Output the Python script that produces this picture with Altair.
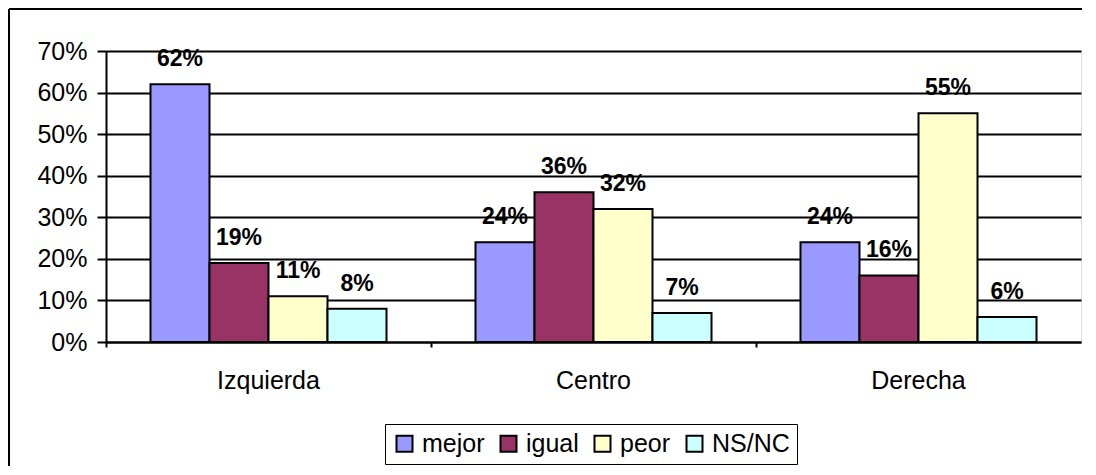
import altair as alt
import pandas as pd

categories = ["Izquierda", "Centro", "Derecha"]
series = ["mejor", "igual", "peor", "NS/NC"]
mejor = [0.62, 0.24, 0.24]
igual = [0.19, 0.36, 0.16]
peor = [0.11, 0.32, 0.55]
nsnc = [0.08, 0.07, 0.06]
colors = ["#9999FF", "#993366", "#FFFFCC", "#CCFFFF"]
y_ticks = [0, 0.1, 0.2, 0.3, 0.4, 0.5, 0.6, 0.7]

rows = []
for s, vals in zip(series, [mejor, igual, peor, nsnc]):
    for c, v in zip(categories, vals):
        rows.append({"cat": c, "serie": s, "val": v})
df = pd.DataFrame(rows)

FONT = "Liberation Sans"

x_enc = alt.X(
    "cat:N",
    sort=categories,
    scale=alt.Scale(paddingInner=0, paddingOuter=0),
    axis=alt.Axis(
        title=None, labelFontSize=25, labelFont=FONT, labelColor="black",
        labelPadding=21, tickSize=5, tickWidth=2, tickColor="black",
        bandPosition=0, domainColor="black", domainWidth=2, grid=False,
        labelAngle=0,
    ),
)
xo_enc = alt.XOffset(
    "serie:N", sort=series,
    scale=alt.Scale(paddingInner=0, paddingOuter=0.754),
)
y_enc = alt.Y(
    "val:Q",
    scale=alt.Scale(domain=[0, 0.7], nice=False),
    axis=alt.Axis(
        title=None, values=y_ticks, format=".0%", labelFontSize=25,
        labelFont=FONT, labelColor="black", labelPadding=10, tickSize=9,
        tickWidth=2, tickColor="black", domainColor="black", domainWidth=2,
        grid=True, gridColor="black", gridWidth=2, gridOpacity=1,
    ),
)

bars = alt.Chart(df).mark_bar(stroke="black", strokeWidth=2).encode(
    x=x_enc,
    xOffset=xo_enc,
    y=y_enc,
    fill=alt.Fill(
        "serie:N",
        sort=series,
        scale=alt.Scale(domain=series, range=colors),
        legend=alt.Legend(
            title=None, orient="none", legendX=279, legendY=373,
            direction="horizontal", symbolType="square", symbolSize=256,
            symbolStrokeColor="black", symbolStrokeWidth=2,
            labelFontSize=25, labelFont=FONT, labelColor="black",
            labelOffset=5, columnPadding=11, padding=7,
            strokeColor="black",
        ),
    ),
)

labels = alt.Chart(df).mark_text(
    baseline="alphabetic", align="center", dy=-18, fontSize=23,
    fontWeight="bold", font=FONT, color="black",
).encode(
    x=alt.X("cat:N", sort=categories),
    xOffset=alt.XOffset("serie:N", sort=series),
    y=alt.Y("val:Q"),
    text=alt.Text("val:Q", format=".0%"),
)

frame_df = pd.DataFrame({"k": [0]})
frame_left = alt.Chart(frame_df).mark_rule(color="black", strokeWidth=2).encode(
    x=alt.value(-97), y=alt.value(-42), y2=alt.value(430)
)
frame_top = alt.Chart(frame_df).mark_rule(color="black", strokeWidth=2).encode(
    x=alt.value(-97), x2=alt.value(985), y=alt.value(-42)
)

chart = alt.layer(bars, labels, frame_left, frame_top).properties(
    width=975,
    height=291,
    autosize=alt.AutoSizeParams(type="none"),
    padding={"left": 98, "top": 43, "right": 1, "bottom": 124},
).configure_view(
    stroke="black", strokeWidth=2
).configure_legend(
    strokeWidth=2
).configure(font=FONT, background="white")

chart.save("out.html", embed_options={"renderer": "svg", "actions": False})
